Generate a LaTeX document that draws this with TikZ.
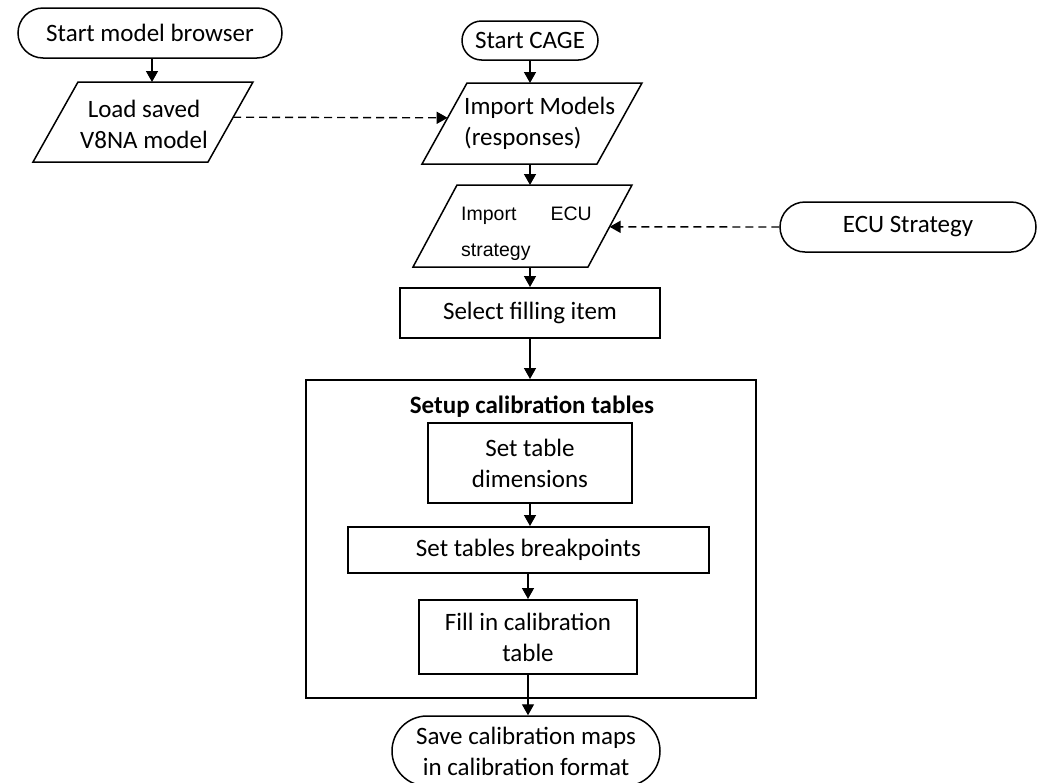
\documentclass[tikz,border=0pt]{standalone}
\usepackage{fontspec}
\setmainfont{Carlito}
\newfontfamily\arialf{Liberation Sans}
\usetikzlibrary{arrows.meta,calc}
\begin{document}
\begin{tikzpicture}[x=1pt,y=-1pt,
  every node/.style={font=\fontsize{25}{31}\selectfont, text=black, inner sep=0pt, align=center},
  term/.style={draw, line width=1.5pt, rounded corners=#1},
  box/.style={draw, line width=2pt},
  para/.style={draw, line width=1.5pt, line join=miter},
  ecutxt/.style={font=\arialf\fontsize{19.5}{22}\selectfont},
  flow/.style={line width=1.4pt, -{Triangle[length=11pt,width=12pt]}},
  dflow/.style={flow, dash pattern=on 8pt off 5pt}
]
\useasboundingbox (0,0) rectangle (1038,782);
\clip (0,0) rectangle (1038,782);
\fill[white] (0,0) rectangle (1038,782);

% terminals
\node[term=25pt, minimum width=264pt, minimum height=50pt] (smb) at (150,33) {Start model browser};
\node[term=19.5pt, minimum width=136pt, minimum height=39pt] (cage) at (530,40.5) {Start CAGE};
\node[term=25pt, minimum width=256pt, minimum height=50pt] (ecus) at (908,227) {ECU Strategy};

% parallelogram 1: Load saved
\coordinate (p1tl) at (78,82);  \coordinate (p1tr) at (253,82);
\coordinate (p1br) at (208,162); \coordinate (p1bl) at (33,162);
\draw[para] (p1tl) -- (p1tr) -- (p1br) -- (p1bl) -- cycle;
\node (load) at (144,124) {Load saved\\V8NA model};

% parallelogram 2: Import Models
\coordinate (p2tl) at (467,83);  \coordinate (p2tr) at (642,83);
\coordinate (p2br) at (597,164); \coordinate (p2bl) at (422,164);
\draw[para] (p2tl) -- (p2tr) -- (p2br) -- (p2bl) -- cycle;
\node[anchor=west, align=left] (impm) at (464,123.5) {Import Models\\(responses)};

% parallelogram 3: Import ECU strategy
\coordinate (p3tl) at (457,185);  \coordinate (p3tr) at (632,185);
\coordinate (p3br) at (588,267); \coordinate (p3bl) at (413,267);
\draw[para] (p3tl) -- (p3tr) -- (p3br) -- (p3bl) -- cycle;
\node[ecutxt, anchor=base west] (ecuA) at (461,220) {Import};
\node[ecutxt, anchor=base east] (ecuB) at (592,220) {ECU};
\node[ecutxt, anchor=base west] (ecuC) at (461,256) {strategy};

% process boxes
\node[box, minimum width=260pt, minimum height=50pt] (sel) at (530,313) {Select filling item};
\node[box, minimum width=450pt, minimum height=318pt] (setup) at (531,539) {};
\node[font=\fontsize{25}{31}\selectfont\bfseries] (title) at (532,407) {Setup calibration tables};
\node[box, line width=2.6pt, minimum width=204pt, minimum height=80pt] (dim) at (530,463) {Set table\\dimensions};
\node[box, minimum width=361pt, minimum height=46pt] (bp) at (528.5,550) {Set tables breakpoints};
\node[box, minimum width=218pt, minimum height=74pt] (fill) at (528,637) {Fill in calibration\\table};
\node[term=35pt, minimum width=268pt, minimum height=70pt] (save) at (526,751) {Save calibration maps\\in calibration format};

% connector end points on the parallelograms
\coordinate (p1t) at (152,82);
\coordinate (p1r) at ($(p1tr)!0.44!(p1br)$);
\coordinate (p2l) at ($(p2tl)!0.43!(p2bl)$);
\coordinate (p2t) at (530,83);
\coordinate (p2b) at (530,164);
\coordinate (p3t) at (530,185);
\coordinate (p3b) at (530,267);
\coordinate (p3r) at ($(p3tr)!0.51!(p3br)$);

% connectors
\draw[flow] (smb.south -| p1t) -- (p1t);
\draw[flow] (cage.south) -- (p2t);
\draw[dflow] (p1r) -- (p2l);
\draw[flow] (p2b) -- (p3t);
\draw[dflow] (ecus.west) -- (p3r);
\draw[flow] (p3b) -- (p3b |- sel.north);
\draw[flow] (sel.south) -- (sel.south |- setup.north);
\draw[flow] (dim.south) -- (dim.south |- bp.north);
\draw[flow] (bp.south -| fill.north) -- (fill.north);
\draw[flow] (fill.south) -- (fill.south |- save.north);
\end{tikzpicture}
\end{document}
